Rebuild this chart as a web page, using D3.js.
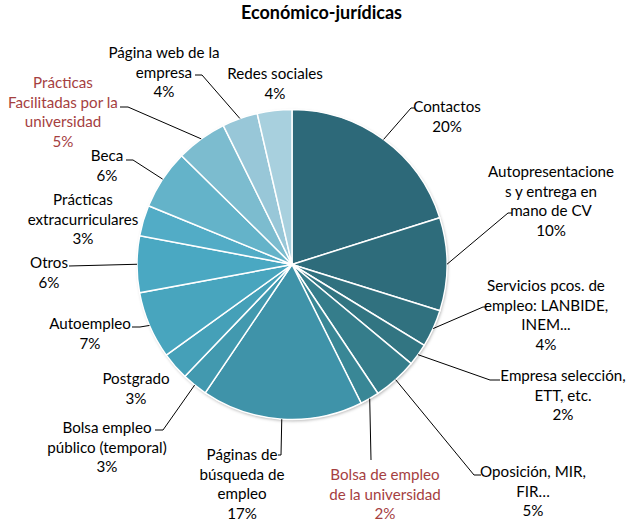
<!DOCTYPE html>
<html>
<head>
<meta charset="utf-8">
<script src="https://cdn.jsdelivr.net/npm/d3@7"></script>
<style>
  body { margin: 0; background: #fff; }
  text { font-family: Lato, "Open Sans", sans-serif; }
</style>
</head>
<body>
<div id="chart"></div>
<script>
// data, clockwise from 12 o'clock
const categories = ["Contactos", "Autopresentaciones y entrega en mano de CV", "Servicios pcos. de empleo: LANBIDE, INEM...",
  "Empresa selección, ETT, etc.", "Oposición, MIR, FIR…", "Bolsa de empleo de la universidad", "Páginas de búsqueda de empleo",
  "Bolsa empleo público (temporal)", "Postgrado", "Autoempleo", "Otros", "Prácticas extracurriculares", "Beca",
  "Prácticas Facilitadas por la universidad", "Página web de la empresa", "Redes sociales"]
const values = [20.1, 9.7, 3.9, 2.3, 4.6, 2.0, 16.8, 2.7, 2.9, 7.0, 5.9, 3.2, 6.2, 5.3, 3.7, 3.6]
const colors = ["#2d6979", "#2e6c7b", "#30717f", "#327582", "#357d8b", "#398796", "#3f93a9", "#4299af",
  "#45a0b8", "#48a5be", "#4aa8c2", "#52acc6", "#64b3c9", "#7cbccf", "#98c7d8", "#a8d0de"]
const redLabels = [5, 13]
const labelLines = [
  ["Contactos"],
  ["Autopresentacione", "s y entrega en", "mano de CV"],
  ["Servicios pcos. de", "empleo: LANBIDE,", "INEM..."],
  ["Empresa selección,", "ETT, etc."],
  ["Oposición, MIR,", "FIR…"],
  ["Bolsa de empleo", "de la universidad"],
  ["Páginas de", "búsqueda de", "empleo"],
  ["Bolsa empleo", "público (temporal)"],
  ["Postgrado"],
  ["Autoempleo"],
  ["Otros"],
  ["Prácticas", "extracurriculares"],
  ["Beca"],
  ["Prácticas", "Facilitadas por la", "universidad"],
  ["Página web de la", "empresa"],
  ["Redes sociales"]
]

// label layout: centre x, first line y, leader start + elbow (null = no leader)
const labelX = [447, 551, 546, 563, 533, 385, 242, 107, 136, 90, 49, 83, 107, 63, 164, 275]
const labelY = [107, 172, 286, 376, 472, 475, 455, 428, 379, 324, 263, 200, 156, 83, 53, 74]
const leaders = [
  [[415, 108], [411, 108]],
  [[512, 213], [508, 213]],
  [[487, 307], [483, 307]],
  [[500, 380], [490, 380]],
  [[481, 475], [474, 475]],
  [[371, 460], [371, 460]],
  [[278, 455], [281, 455]],
  [[155, 430], [163, 430]],
  null,
  [[132, 327], [140, 327]],
  [[69, 266], [69, 266]],
  null,
  [[126, 160], [133, 160]],
  [[120, 107], [128, 107]],
  [[195, 75], [202, 75]],
  null
]

const width = 628, height = 521
const cx = 292, cy = 264.5, radius = 155
const lineGap = 19.5

const svg = d3.select("#chart").append("svg")
  .attr("width", width)
  .attr("height", height)

// fit the fonts to the widths seen in the picture
const probe = svg.append("text").attr("font-size", 15).text("Facilitadas por la")
const fs = 15 * 110 / probe.node().getComputedTextLength()
probe.attr("font-weight", "bold").text("Económico-jurídicas")
const titleFs = 15 * 161 / probe.node().getComputedTextLength()
probe.remove()

svg.append("text")
  .attr("x", 321.5)
  .attr("y", 13)
  .attr("dy", "0.35em")
  .attr("text-anchor", "middle")
  .attr("font-weight", "bold")
  .attr("font-size", titleFs)
  .attr("fill", "#000")
  .text("Económico-jurídicas")

const defs = svg.append("defs")
const shadow = defs.append("filter").attr("id", "shadow")
  .attr("x", "-10%").attr("y", "-10%").attr("width", "120%").attr("height", "120%")
shadow.append("feDropShadow")
  .attr("dx", 1).attr("dy", 1.5).attr("stdDeviation", 1.5)
  .attr("flood-color", "#000").attr("flood-opacity", 0.3)

const pie = d3.pie().sort(null).value(d => d)
const arcs = pie(values)
const arc = d3.arc().innerRadius(0).outerRadius(radius)
const edge = d3.arc().innerRadius(radius).outerRadius(radius)

const g = svg.append("g").attr("transform", `translate(${cx},${cy})`)

g.append("circle").attr("r", radius).attr("fill", "#fff").attr("filter", "url(#shadow)")

g.selectAll("path.slice")
  .data(arcs)
  .join("path")
  .attr("class", "slice")
  .attr("d", arc)
  .attr("fill", (d, i) => colors[i])
  .attr("stroke", "#fff")
  .attr("stroke-width", 1.5)

// leader lines
svg.append("g").selectAll("polyline")
  .data(arcs.filter((d, i) => leaders[i]))
  .join("polyline")
  .attr("points", d => {
    const l = leaders[d.index]
    const p = edge.centroid(d)
    return [l[0], l[1], [cx + p[0], cy + p[1]]].map(q => q.join(",")).join(" ")
  })
  .attr("fill", "none")
  .attr("stroke", "#000")
  .attr("stroke-width", 1)

// labels
const total = d3.sum(values)
const labels = svg.append("g").selectAll("text")
  .data(arcs)
  .join("text")
  .attr("text-anchor", "middle")
  .attr("font-size", fs)
  .attr("fill", (d, i) => redLabels.includes(i) ? "#a5403f" : "#000")

labels.each(function(d, i) {
  const lines = labelLines[i].concat([Math.round(d.value / total * 100) + "%"])
  d3.select(this).selectAll("tspan")
    .data(lines)
    .join("tspan")
    .attr("x", labelX[i])
    .attr("y", (t, k) => labelY[i] + k * lineGap)
    .attr("dy", "0.35em")
    .text(t => t)
})
</script>
</body>
</html>
